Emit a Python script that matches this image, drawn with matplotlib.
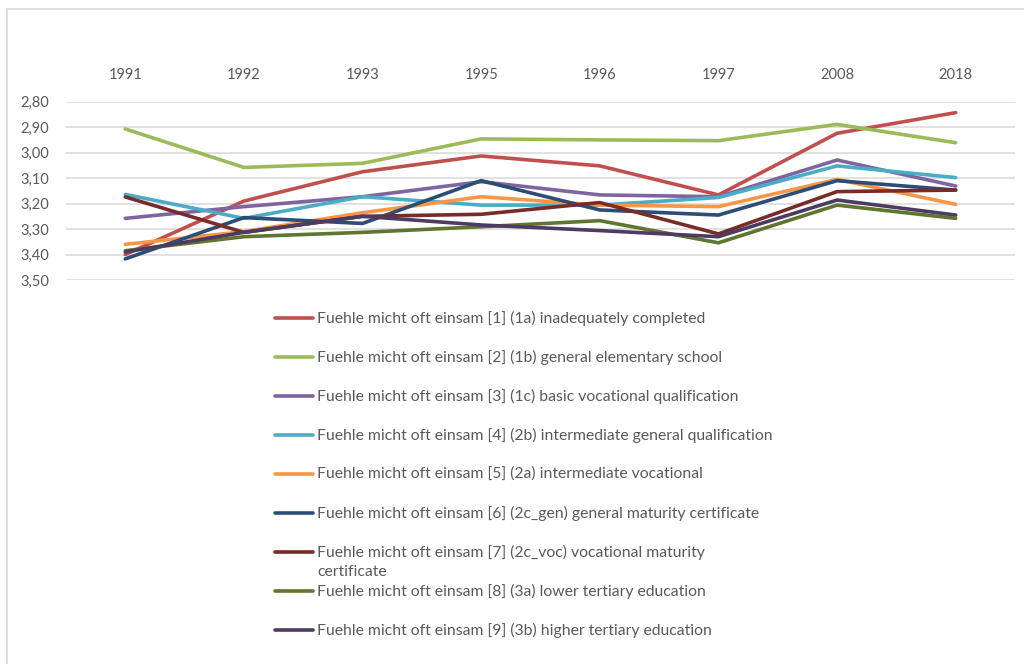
import matplotlib
matplotlib.use("Agg")
import matplotlib.pyplot as plt
from matplotlib.lines import Line2D
from matplotlib.patches import Rectangle
from matplotlib.ticker import FuncFormatter

years = ["1991", "1992", "1993", "1995", "1996", "1997", "2008", "2018"]

prefix = "Fuehle micht oft einsam"
labels = [
    "[1] (1a) inadequately completed",
    "[2] (1b) general elementary school",
    "[3] (1c) basic vocational qualification",
    "[4] (2b) intermediate general qualification",
    "[5] (2a) intermediate vocational",
    "[6] (2c_gen) general maturity certificate",
    "[7] (2c_voc) vocational maturity\ncertificate",
    "[8] (3a) lower tertiary education",
    "[9] (3b) higher tertiary education",
]

s1 = [3.40, 3.19, 3.075, 3.013, 3.052, 3.166, 2.924, 2.843]
s2 = [2.907, 3.058, 3.042, 2.946, 2.950, 2.953, 2.889, 2.961]
s3 = [3.258, 3.212, 3.173, 3.114, 3.166, 3.173, 3.029, 3.131]
s4 = [3.164, 3.258, 3.173, 3.206, 3.206, 3.176, 3.052, 3.098]
s5 = [3.360, 3.310, 3.236, 3.173, 3.206, 3.212, 3.105, 3.203]
s6 = [3.417, 3.255, 3.278, 3.110, 3.225, 3.245, 3.110, 3.147]
s7 = [3.174, 3.313, 3.250, 3.242, 3.196, 3.319, 3.153, 3.147]
s8 = [3.385, 3.330, 3.313, 3.291, 3.267, 3.354, 3.206, 3.258]
s9 = [3.390, 3.313, 3.250, 3.284, 3.306, 3.330, 3.186, 3.245]
series = [s1, s2, s3, s4, s5, s6, s7, s8, s9]

colors = ["#C0504D", "#9BBB59", "#8064A2", "#4BACC6", "#F79646",
          "#2C4D75", "#772C2A", "#5F7530", "#4D3B62"]

plt.rcParams["font.family"] = ["Lato", "DejaVu Sans"]
text_color = "#595959"

W, H = 1024, 664
fig = plt.figure(figsize=(W / 100, H / 100), dpi=100)
fig.patch.set_facecolor("white")

# chart frame
fig.add_artist(Rectangle((7 / W, -0.05), 1.1, 1 - 9 / H + 0.05,
                         transform=fig.transFigure, fill=False,
                         edgecolor="#D9D9D9", linewidth=1.2))

left, right = 66 / W, 1015 / W
top, bottom = 1 - 101.7 / H, 1 - 280 / H
ax = fig.add_axes([left, bottom, right - left, top - bottom])

x = range(len(years))
for vals, c in zip(series, colors):
    ax.plot(x, vals, color=c, linewidth=2.6, solid_capstyle="round",
            solid_joinstyle="round")

ax.set_xlim(-0.5, len(years) - 0.5)
ax.set_ylim(3.50, 2.80)
ax.set_yticks([2.8 + 0.1 * i for i in range(8)])
ax.yaxis.set_major_formatter(FuncFormatter(lambda v, p: f"{v:.2f}".replace(".", ",")))
ax.set_xticks(list(x))
ax.set_xticklabels(years)
ax.xaxis.tick_top()
ax.tick_params(axis="both", length=0, colors=text_color, labelsize=10.5)
ax.tick_params(axis="x", pad=14)
ax.tick_params(axis="y", pad=12)
ax.grid(axis="y", color="#D9D9D9", linewidth=1.1)
ax.set_axisbelow(True)
for sp in ax.spines.values():
    sp.set_visible(False)

# legend rows below the plot
row0, step = 318, 39
for i, (lab, c) in enumerate(zip(labels, colors)):
    y = 1 - (row0 + i * step) / H
    fig.add_artist(Line2D([275 / W, 313 / W], [y, y], transform=fig.transFigure,
                          color=c, linewidth=2.6, solid_capstyle="round"))
    first, *rest = lab.split("\n")
    fig.text(317 / W, y, f"{prefix} {first}", ha="left", va="center",
             fontsize=11.3, color=text_color)
    if rest:
        fig.text(317 / W, y - 20 / H, rest[0], ha="left", va="center",
                 fontsize=11.3, color=text_color)

fig.savefig("out.png", dpi=100, facecolor="white")
